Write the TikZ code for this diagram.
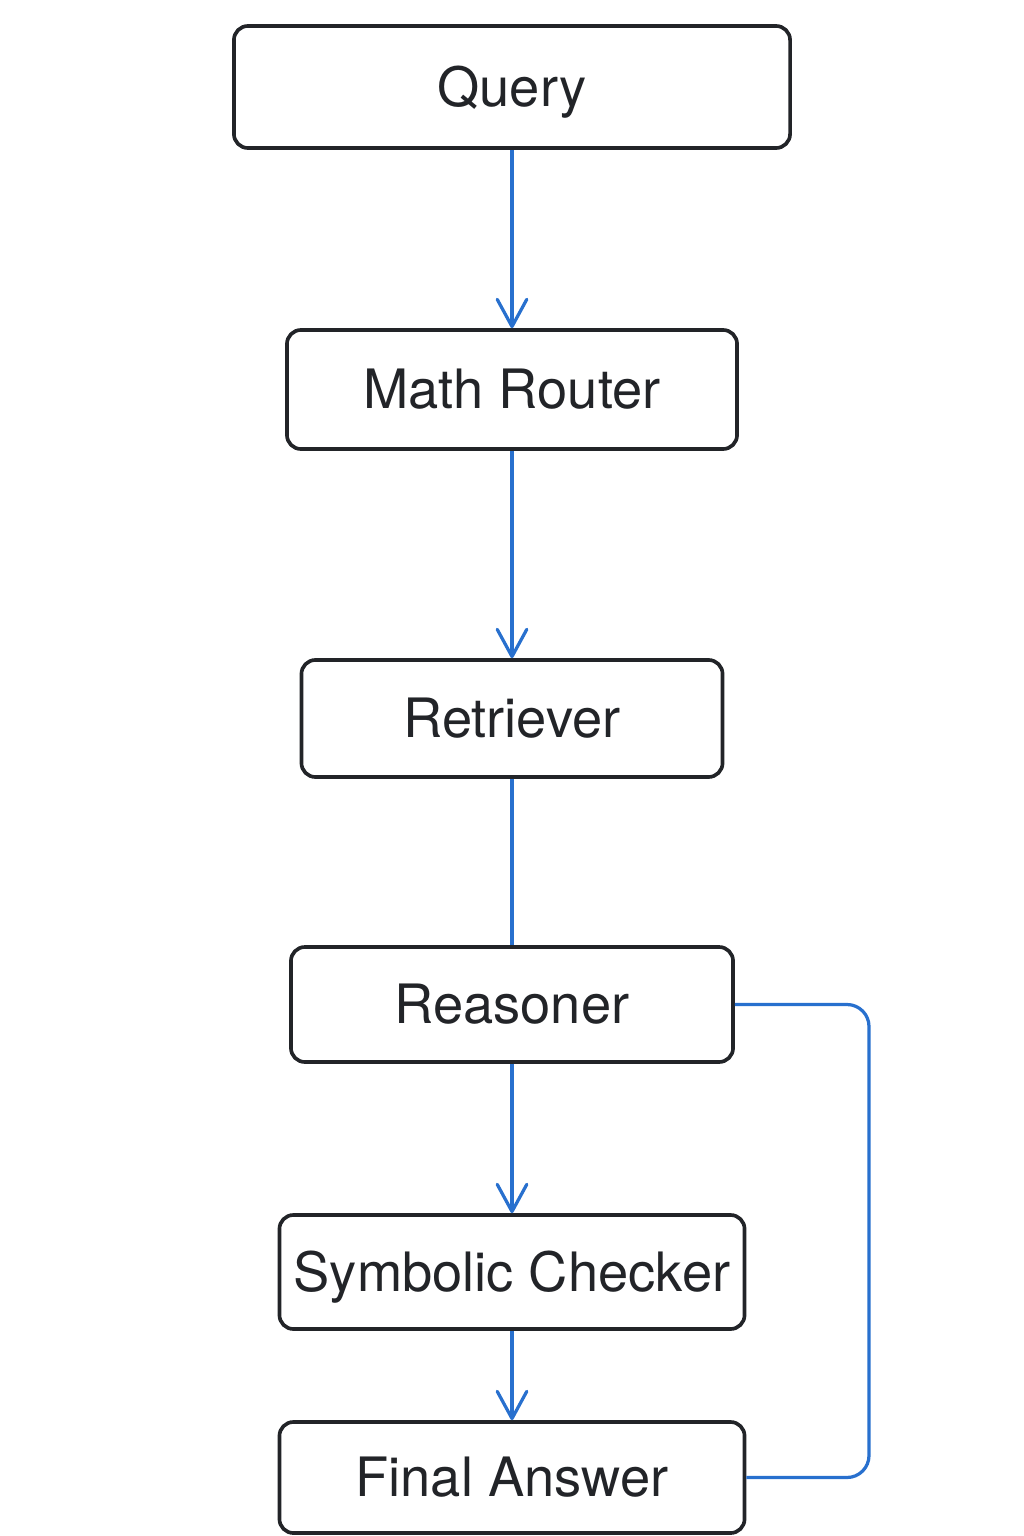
\documentclass[tikz,border=0pt]{standalone}
\usepackage{fontspec}
\setmainfont{TeX Gyre Heros}
\usetikzlibrary{arrows.meta}
\definecolor{flowblue}{RGB}{40,112,206}
\definecolor{boxink}{RGB}{34,36,40}
\tikzset{
  stage/.style={draw=boxink,line width=2.6pt,rounded corners=0.35cm,fill=white,
    text=boxink,font=\fontsize{38.6}{44}\selectfont,inner sep=0pt,
    text height=27.4pt,text depth=0pt},
  flow/.style={flowblue,line width=2.3pt},
  flowtip/.style={flow,-{Straight Barb[length=0.68cm,width=0.74cm,line cap=round,line join=round]}}
}
\newcommand{\pipestage}[6]{%
  \node[stage,minimum width=#4,minimum height=#5] (#1) at (#2,#3) {#6};
}
\begin{document}
\begin{tikzpicture}[x=0.025cm,y=0.025cm]
  \useasboundingbox (0,0) rectangle (1024,-1536);
  \pipestage{query}{512}{-87}{13.9cm}{3.05cm}{Query}
  \pipestage{router}{512}{-389.5}{11.25cm}{2.975cm}{Math Router}
  \pipestage{retriever}{512}{-718.5}{10.525cm}{2.925cm}{Retriever}
  \pipestage{reasoner}{512}{-1004.5}{11.05cm}{2.875cm}{Reasoner}
  \pipestage{checker}{512}{-1272}{11.625cm}{2.85cm}{Symbolic Checker}
  \pipestage{answer}{512}{-1477.5}{11.625cm}{2.775cm}{Final Answer}
  \draw[flowtip] (query) -- (router);
  \draw[flowtip] (router) -- (retriever);
  \draw[flow] (retriever) -- (reasoner);
  \draw[flowtip] (reasoner) -- (checker);
  \draw[flowtip] (checker) -- (answer);
  % loop on the right side, back into the answer box
  \coordinate (loopturn) at (869,-1004.5);
  \draw[flow,rounded corners=0.55cm] (reasoner.east) -- (loopturn) |- (answer.east);
\end{tikzpicture}
\end{document}
